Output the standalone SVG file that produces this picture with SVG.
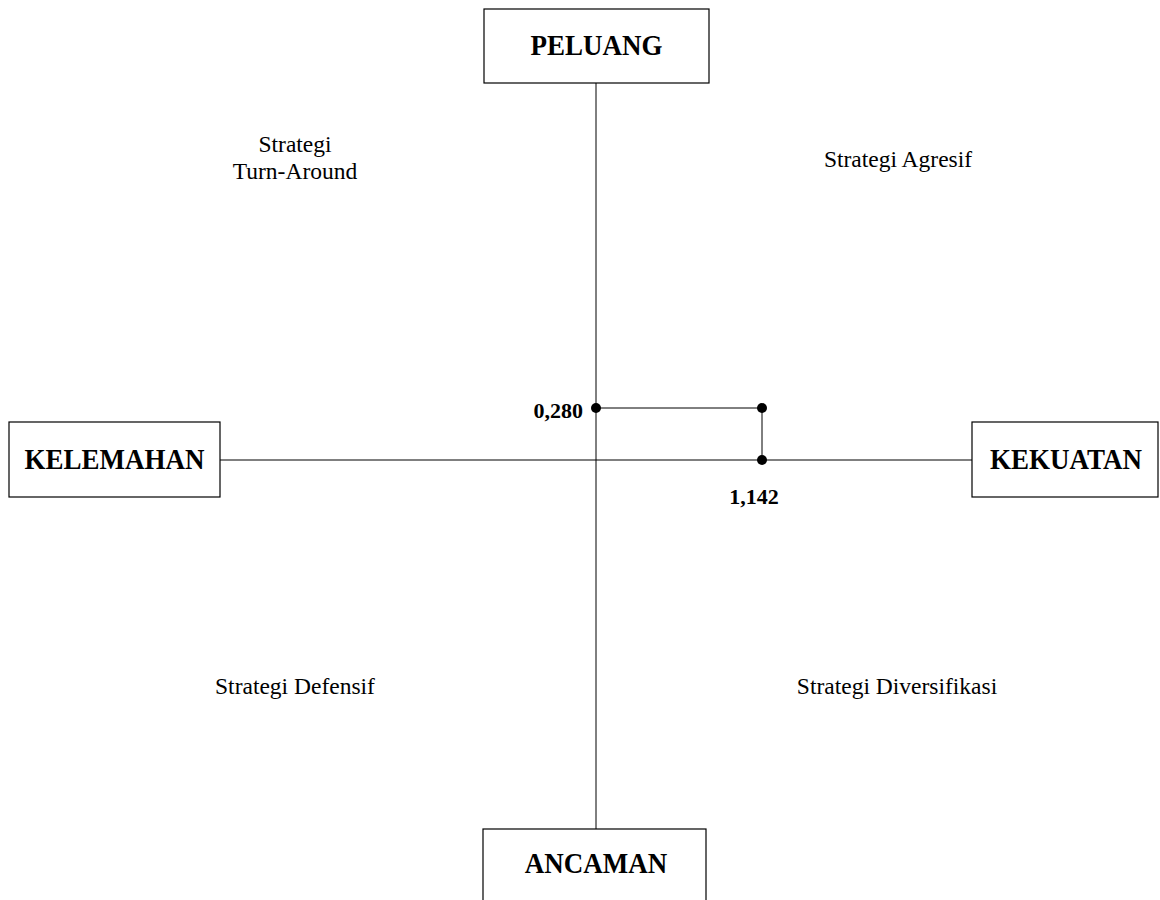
<svg xmlns="http://www.w3.org/2000/svg" width="1160" height="900" viewBox="0 0 1160 900">
<style>
.box{fill:#fff;stroke:#000;stroke-width:1.2}
.ax{stroke:#000;stroke-width:1;fill:none}
.lbl{font-family:"Liberation Serif","Times New Roman",serif;font-weight:bold;font-size:27px;text-anchor:middle;fill:#000}
.q{font-family:"Liberation Serif","Times New Roman",serif;font-size:23.5px;text-anchor:middle;fill:#000}
.num{font-family:"Liberation Serif","Times New Roman",serif;font-weight:bold;font-size:22px;fill:#000}
.dot{fill:#000}
</style>
<rect width="1160" height="900" fill="#fff"/>
<g id="connectors">
<line class="ax" x1="596" y1="83" x2="596" y2="829"/>
<line class="ax" x1="220" y1="460" x2="972" y2="460"/>
<polyline class="ax" points="596,408 762,408 762,460"/>
</g>
<g id="peluang">
<rect class="box" x="484" y="9" width="225" height="74"/>
<text class="lbl" transform="translate(596.5,55) scale(1,1.1)">PELUANG</text>
</g>
<g id="kelemahan">
<rect class="box" x="9" y="422" width="211" height="75"/>
<text class="lbl" transform="translate(114.5,469) scale(1,1.1)">KELEMAHAN</text>
</g>
<g id="kekuatan">
<rect class="box" x="972" y="422" width="186" height="75"/>
<text class="lbl" transform="translate(1066,469) scale(1,1.1)">KEKUATAN</text>
</g>
<g id="ancaman">
<rect class="box" x="483" y="829" width="223" height="80"/>
<text class="lbl" transform="translate(596,873) scale(1,1.1)">ANCAMAN</text>
</g>
<g id="quadrants">
<text class="q" x="295" y="152">Strategi</text>
<text class="q" x="295" y="179">Turn-Around</text>
<text class="q" x="898" y="167">Strategi Agresif</text>
<text class="q" x="295" y="694">Strategi Defensif</text>
<text class="q" x="897" y="694">Strategi Diversifikasi</text>
</g>
<g id="points">
<circle class="dot" cx="596" cy="408" r="5"/>
<circle class="dot" cx="762" cy="408" r="5"/>
<circle class="dot" cx="762" cy="460" r="5"/>
<text class="num" x="583" y="418" text-anchor="end">0,280</text>
<text class="num" x="754" y="504" text-anchor="middle">1,142</text>
</g>
</svg>
